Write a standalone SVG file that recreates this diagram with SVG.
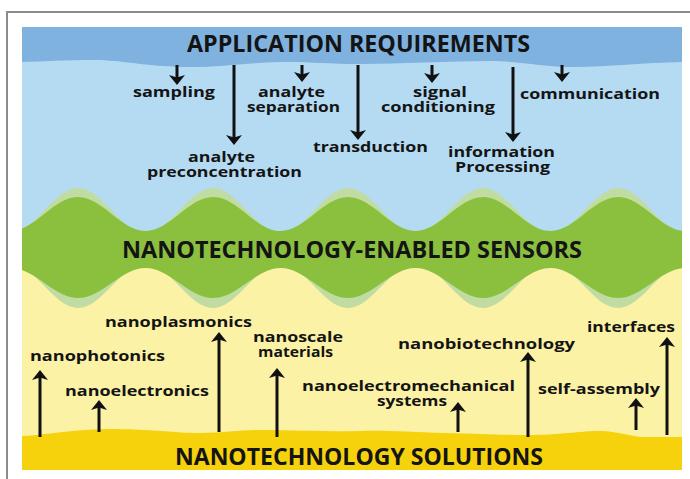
<svg xmlns="http://www.w3.org/2000/svg" width="690" height="479" viewBox="0 0 690 479">
<defs>
<clipPath id="area"><rect x="22" y="27" width="660" height="443"/></clipPath>
<marker id="ah" markerUnits="userSpaceOnUse" markerWidth="12" markerHeight="18" viewBox="0 -9 12 18" refX="6" refY="0" orient="auto">
<path d="M0,-8 L10,0 L0,8 L2.5,0 Z" fill="#111"/>
</marker>
</defs>
<style>
.lbl{font-family:"Open Sans","Liberation Sans",sans-serif;font-weight:700;font-size:15px;fill:#141414;text-anchor:middle}
.ttl{font-family:"Open Sans","Liberation Sans",sans-serif;font-weight:700;fill:#141414;text-anchor:middle}
.arr{stroke:#111;stroke-width:3;fill:none;marker-end:url(#ah)}
</style>
<rect width="690" height="479" fill="#ffffff"/>
<path d="M7,479 V12 H690" fill="none" stroke="#8c8c8c" stroke-width="2"/>
<g clip-path="url(#area)">
<rect x="22" y="27" width="660" height="240" fill="#b5dbf3"/>
<rect x="22" y="240" width="660" height="230" fill="#fbf2a5"/>
<g id="application-requirements">
<path d="M15,27 L690,27 L690,62 C650,62 610,67 575,67 C540,67 520,61 490,61 C450,61 400,64 360,64 C330,64 310,62 290,62 C250,62 225,67 190,67 C150,67 120,60 95,60 C60,60 35,62 15,62 Z" fill="#7fb2df"/>
<text class="ttl" x="358.5" y="52" font-size="24" textLength="343" lengthAdjust="spacingAndGlyphs">APPLICATION REQUIREMENTS</text>
</g>
<g id="nanotechnology-enabled-sensors">
<path d="M10.5,233 C35.1,233 53.4,188 78,188 C102.6,188 120.9,233 145.5,233 C170.1,233 188.4,188 213,188 C237.6,188 255.9,233 280.5,233 C305.1,233 323.4,188 348,188 C372.6,188 390.9,233 415.5,233 C440.1,233 458.4,188 483,188 C507.6,188 525.9,233 550.5,233 C575.1,233 593.4,188 618,188 C642.6,188 660.9,233 685.5,233 L685.5,264 C660.9,264 642.6,308 618,308 C593.4,308 575.1,264 550.5,264 C525.9,264 507.6,308 483,308 C458.4,308 440.1,264 415.5,264 C390.9,264 372.6,308 348,308 C323.4,308 305.1,264 280.5,264 C255.9,264 237.6,308 213,308 C188.4,308 170.1,264 145.5,264 C120.9,264 102.6,308 78,308 C53.4,308 35.1,264 10.5,264 Z" fill="#c0dca2"/>
<path d="M10.5,231 C35.1,231 53.4,197 78,197 C102.6,197 120.9,231 145.5,231 C170.1,231 188.4,197 213,197 C237.6,197 255.9,231 280.5,231 C305.1,231 323.4,197 348,197 C372.6,197 390.9,231 415.5,231 C440.1,231 458.4,197 483,197 C507.6,197 525.9,231 550.5,231 C575.1,231 593.4,197 618,197 C642.6,197 660.9,231 685.5,231 L685.5,268 C660.9,268 642.6,298 618,298 C593.4,298 575.1,268 550.5,268 C525.9,268 507.6,298 483,298 C458.4,298 440.1,268 415.5,268 C390.9,268 372.6,298 348,298 C323.4,298 305.1,268 280.5,268 C255.9,268 237.6,298 213,298 C188.4,298 170.1,268 145.5,268 C120.9,268 102.6,298 78,298 C53.4,298 35.1,268 10.5,268 Z" fill="#8bc03f"/>
<text class="ttl" x="352" y="258" font-size="23" font-weight="600" textLength="460" lengthAdjust="spacingAndGlyphs">NANOTECHNOLOGY-ENABLED SENSORS</text>
</g>
<g id="nanotechnology-solutions">
<path d="M15,470 L15,437 C50,434 80,429 110,429 C150,429 175,433 200,433 C225,433 240,430 260,430 C300,430 330,432 360,431 C385,430 410,432 445,433 C480,434 505,435 528,435 C560,435 580,431 598,431 C620,431 630,437 645,437 L690,437 L690,470 Z" fill="#f6d20c"/>
<text class="ttl" x="359" y="465" font-size="24" textLength="368" lengthAdjust="spacingAndGlyphs">NANOTECHNOLOGY SOLUTIONS</text>
</g>
</g>
<g id="connectors">
<line class="arr" x1="177" y1="65" x2="177" y2="81"/>
<line class="arr" x1="234" y1="65" x2="234" y2="141"/>
<line class="arr" x1="302" y1="65" x2="302" y2="78"/>
<line class="arr" x1="358" y1="65" x2="358" y2="136"/>
<line class="arr" x1="432" y1="65" x2="432" y2="79"/>
<line class="arr" x1="513" y1="67" x2="513" y2="138"/>
<line class="arr" x1="562" y1="65" x2="562" y2="78"/>
<line class="arr" x1="40" y1="437" x2="40" y2="374"/>
<line class="arr" x1="99" y1="432" x2="99" y2="404"/>
<line class="arr" x1="219" y1="432" x2="219" y2="336"/>
<line class="arr" x1="277" y1="437" x2="277" y2="372"/>
<line class="arr" x1="458" y1="432" x2="458" y2="406"/>
<line class="arr" x1="528" y1="437" x2="528" y2="356"/>
<line class="arr" x1="636" y1="430" x2="636" y2="402"/>
<line class="arr" x1="667" y1="435" x2="667" y2="341"/>
</g>
<g id="sampling"><text class="lbl" x="174" y="97" textLength="82" lengthAdjust="spacingAndGlyphs">sampling</text></g>
<g id="analyte-preconcentration"><text class="lbl"><tspan x="221.5" y="162" textLength="67" lengthAdjust="spacingAndGlyphs">analyte</tspan><tspan x="224.5" y="177" textLength="155" lengthAdjust="spacingAndGlyphs">preconcentration</tspan></text></g>
<g id="analyte-separation"><text class="lbl"><tspan x="291.5" y="97" textLength="67" lengthAdjust="spacingAndGlyphs">analyte</tspan><tspan x="293.5" y="112" textLength="93" lengthAdjust="spacingAndGlyphs">separation</tspan></text></g>
<g id="transduction"><text class="lbl" x="370.5" y="152" textLength="115" lengthAdjust="spacingAndGlyphs">transduction</text></g>
<g id="signal-conditioning"><text class="lbl"><tspan x="440" y="97" textLength="54" lengthAdjust="spacingAndGlyphs">signal</tspan><tspan x="438" y="112" textLength="114" lengthAdjust="spacingAndGlyphs">conditioning</tspan></text></g>
<g id="information-processing"><text class="lbl"><tspan x="501.5" y="157" textLength="107" lengthAdjust="spacingAndGlyphs">information</tspan><tspan x="502.5" y="172" textLength="95" lengthAdjust="spacingAndGlyphs">Processing</tspan></text></g>
<g id="communication"><text class="lbl" x="590" y="99" textLength="140" lengthAdjust="spacingAndGlyphs">communication</text></g>
<g id="nanophotonics"><text class="lbl" x="97.5" y="361" textLength="135" lengthAdjust="spacingAndGlyphs">nanophotonics</text></g>
<g id="nanoelectronics"><text class="lbl" x="137" y="396" textLength="144" lengthAdjust="spacingAndGlyphs">nanoelectronics</text></g>
<g id="nanoplasmonics"><text class="lbl" x="178.5" y="327" textLength="147" lengthAdjust="spacingAndGlyphs">nanoplasmonics</text></g>
<g id="nanoscale-materials"><text class="lbl"><tspan x="298" y="342" textLength="90" lengthAdjust="spacingAndGlyphs">nanoscale</tspan><tspan x="295.5" y="357" textLength="75" lengthAdjust="spacingAndGlyphs">materials</tspan></text></g>
<g id="nanoelectromechanical-systems"><text class="lbl"><tspan x="408.5" y="391" textLength="213" lengthAdjust="spacingAndGlyphs">nanoelectromechanical</tspan><tspan x="412" y="406" textLength="70" lengthAdjust="spacingAndGlyphs">systems</tspan></text></g>
<g id="nanobiotechnology"><text class="lbl" x="486.5" y="349" textLength="177" lengthAdjust="spacingAndGlyphs">nanobiotechnology</text></g>
<g id="self-assembly"><text class="lbl" x="599" y="394" textLength="122" lengthAdjust="spacingAndGlyphs">self-assembly</text></g>
<g id="interfaces"><text class="lbl" x="631" y="332" textLength="88" lengthAdjust="spacingAndGlyphs">interfaces</text></g>
</svg>
